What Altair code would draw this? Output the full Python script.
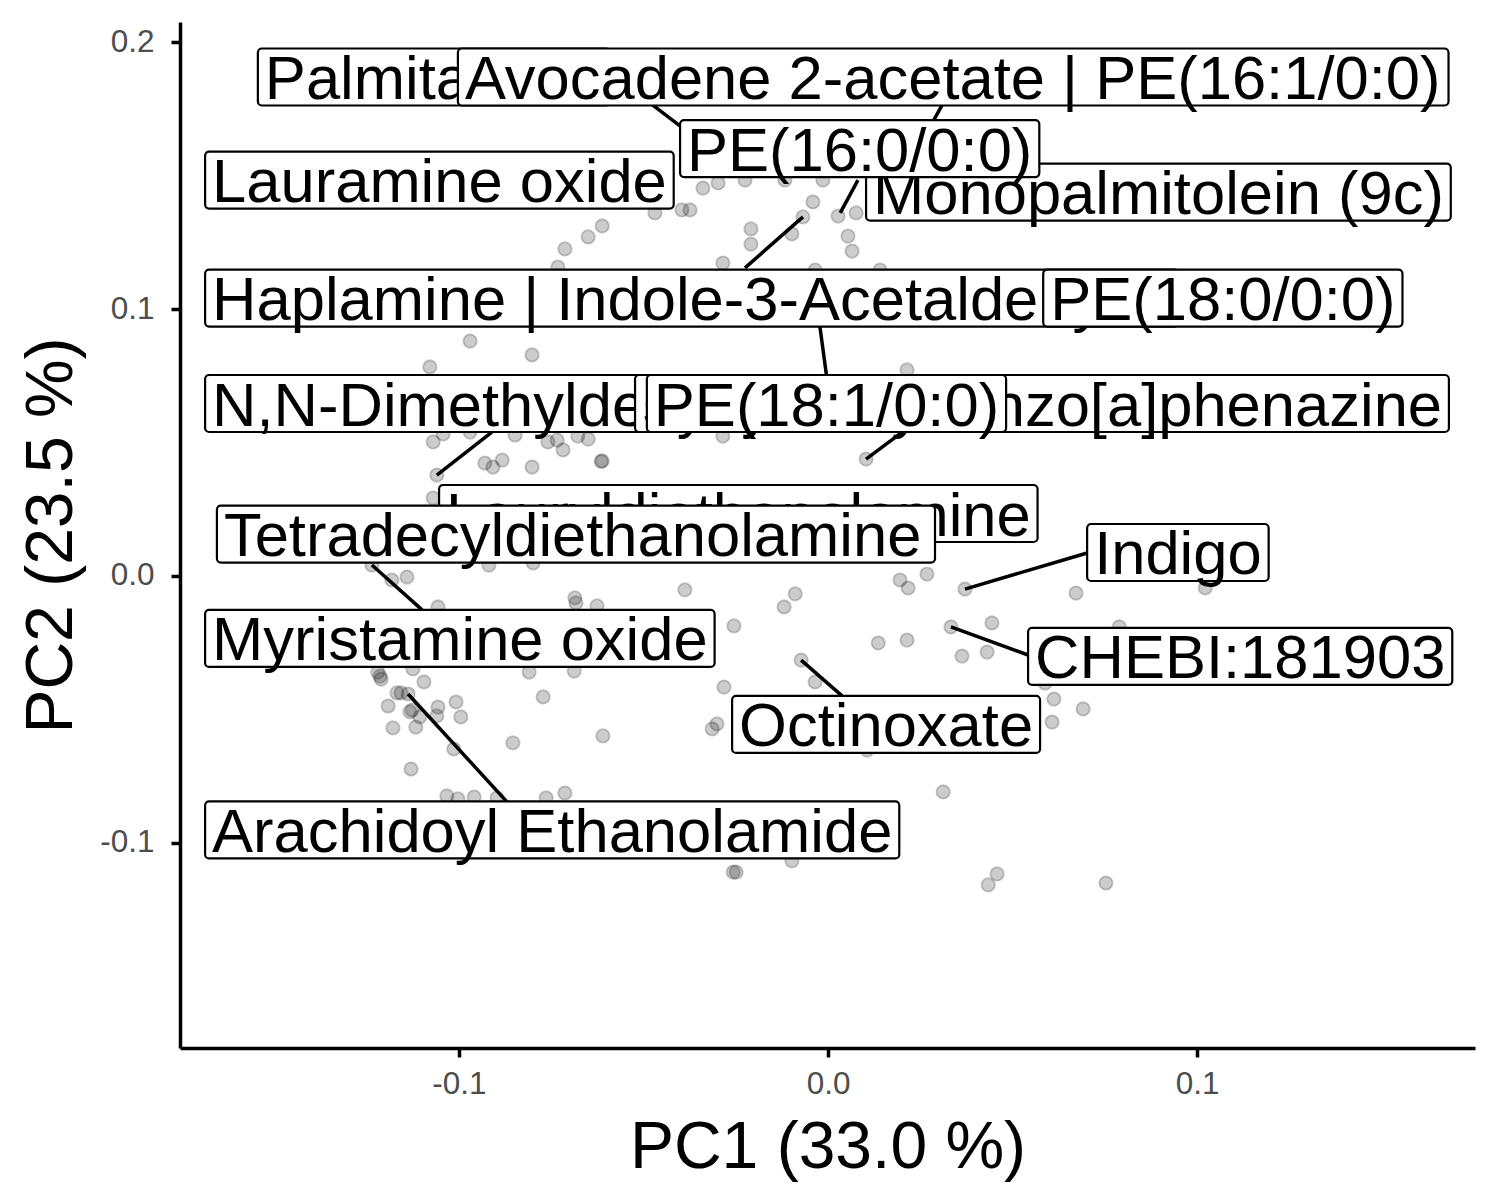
import altair as alt
import pandas as pd

# ---------------- data ----------------
pc1 = [-0.0469, -0.0396, -0.0374, -0.0339, -0.0298, -0.0225, -0.0117, -0.0014, -0.0612, -0.0650,
       -0.0713, -0.0732, -0.0041, -0.0068, -0.0098, -0.0209, -0.0209, -0.0285, -0.0035, 0.0027,
       0.0076, 0.0054, 0.0065, 0.0141, -0.0970, -0.0802, -0.1079, 0.0214, -0.1070, -0.1043,
       -0.0970, -0.0848, -0.0759, -0.0734, -0.0718, -0.0678, -0.0650, -0.0285, -0.0930, -0.0908,
       -0.0883, -0.0802, -0.0612, -0.0615, -0.1060, -0.1070, 0.0103, -0.1236, -0.1182, -0.1141,
       -0.0919, -0.0799, -0.1057, -0.0686, -0.0683, -0.0626, -0.0388, -0.0089, -0.0119, -0.0255,
       -0.0073, -0.0035, -0.0282, -0.1220, -0.1214, -0.1211, -0.1125, -0.1095, -0.0810, -0.0688,
       -0.1168, -0.1157, -0.1138, -0.1192, -0.1133, -0.1127, -0.1106, -0.1057, -0.1060, -0.1008,
       -0.0995, -0.1179, -0.1117, -0.0772, -0.1014, -0.0854, -0.0610, -0.1130, -0.0301, -0.0314,
       -0.1033, -0.1003, -0.0959, -0.0897, -0.0764, -0.0713, -0.0257, -0.0249, -0.0098, 0.0195,
       0.0217, 0.0268, 0.0371, 0.0672, 0.1022, 0.0333, 0.0444, 0.0136, 0.0214, 0.0363,
       0.0431, 0.0789, 0.0588, 0.0612, 0.0607, 0.0691, 0.0106, 0.0312, 0.0458, 0.0434,
       0.0753, -0.0333, 0.0249, 0.0003]
pc2 = [0.1360, 0.1371, 0.1371, 0.1453, 0.1472, 0.1483, 0.1483, 0.1483, 0.1311, 0.1270,
       0.1225, 0.1157, 0.1401, 0.1345, 0.1281, 0.1300, 0.1243, 0.1172, 0.1146, 0.1348,
       0.1360, 0.1273, 0.1217, 0.1146, 0.0880, 0.0828, 0.0783, 0.0772, 0.0502, 0.0532,
       0.0539, 0.0528, 0.0502, 0.0509, 0.0472, 0.0524, 0.0513, 0.0524, 0.0423, 0.0408,
       0.0434, 0.0408, 0.0431, 0.0429, 0.0378, 0.0292, 0.0438, 0.0041, -0.0015, -0.0004,
       0.0041, 0.0049, -0.0116, -0.0082, -0.0101, -0.0112, -0.0052, -0.0067, -0.0116, -0.0187,
       -0.0315, -0.0397, -0.0416, -0.0360, -0.0375, -0.0386, -0.0348, -0.0397, -0.0360, -0.0356,
       -0.0438, -0.0438, -0.0442, -0.0487, -0.0509, -0.0502, -0.0528, -0.0491, -0.0524, -0.0472,
       -0.0528, -0.0569, -0.0566, -0.0453, -0.0648, -0.0625, -0.0599, -0.0723, -0.0554, -0.0573,
       -0.0824, -0.0835, -0.0828, -0.0831, -0.0831, -0.0813, -0.1109, -0.1109, -0.1067, -0.0015,
       -0.0045, 0.0007, -0.0049, -0.0064, -0.0045, -0.0191, -0.0176, -0.0251, -0.0240, -0.0300,
       -0.0285, -0.0191, -0.0401, -0.0461, -0.0547, -0.0498, -0.0652, -0.0809, -0.1116, -0.1157,
       -0.1150, 0.1614, 0.1614, 0.0678]

# labels, in drawing order (later ones on top)
label_text = ["Palmitamide", "Avocadene 2-acetate | PE(16:1/0:0)", "Monopalmitolein (9c)",
              "PE(16:0/0:0)", "Lauramine oxide", "Haplamine | Indole-3-Acetaldehyde",
              "PE(18:0/0:0)", "N,N-Dimethyldecylamine", "5-Hydroxybenzo[a]phenazine",
              "PE(18:1/0:0)", "Lauryldiethanolamine", "Tetradecyldiethanolamine", "Indigo",
              "Myristamine oxide", "CHEBI:181903", "Octinoxate", "Arachidoyl Ethanolamide"]
label_left = [-0.1545, -0.1003, 0.0103, -0.0401, -0.1688, -0.1688, 0.0583, -0.1688, -0.0523,
              -0.0491, -0.1054, -0.1656, 0.0702, -0.1688, 0.0542, -0.0260, -0.1688]
label_mid = [0.1869, 0.1869, 0.1438, 0.1601, 0.1483, 0.1041, 0.1041, 0.0646, 0.0646,
             0.0646, 0.0234, 0.0157, 0.0088, -0.0234, -0.0301, -0.0556, -0.0951]

# connector segments: point -> label edge
seg_x = [-0.0333, 0.0249, 0.0033, -0.0068, 0.0003, 0.0103, -0.1060, -0.1236, -0.1138, -0.0073, 0.0371, 0.0333]
seg_y = [0.1614, 0.1614, 0.1360, 0.1345, 0.0678, 0.0438, 0.0378, 0.0041, -0.0442, -0.0315, -0.0049, -0.0191]
seg_xend = [-0.0482, 0.0312, 0.0081, -0.0225, -0.0022, 0.0201, -0.0911, -0.1100, -0.0870, 0.0038, 0.0702, 0.0542]
seg_yend = [0.1771, 0.1771, 0.1483, 0.1154, 0.0933, 0.0539, 0.0539, -0.0127, -0.0846, -0.0449, 0.0086, -0.0296]

x_ticks = [-0.1, 0.0, 0.1]
y_ticks = [-0.1, 0.0, 0.1, 0.2]

# ---------------- layout / style ----------------
XMIN, XMAX = -0.1756, 0.1753
YMIN, YMAX = -0.1768, 0.2075
W, H = 1295, 1026
FONT = "Liberation Sans, Arial, Helvetica, sans-serif"
FS = 61.5
PAD = 7
BOX_H = 57

ARIAL = {" ": 278, "(": 333, ")": 333, ",": 278, "-": 333, ".": 278, "/": 278, ":": 278,
         "[": 278, "]": 278, "|": 260,
         "A": 667, "B": 667, "C": 722, "D": 722, "E": 667, "F": 611, "G": 778, "H": 722, "I": 278,
         "J": 500, "K": 667, "L": 556, "M": 833, "N": 722, "O": 778, "P": 667, "Q": 778, "R": 722,
         "S": 667, "T": 611, "U": 722, "V": 667, "W": 944, "X": 667, "Y": 667, "Z": 611,
         "a": 556, "b": 556, "c": 500, "d": 556, "e": 556, "f": 278, "g": 556, "h": 556, "i": 222,
         "j": 222, "k": 500, "l": 222, "m": 833, "n": 556, "o": 556, "p": 556, "q": 556, "r": 333,
         "s": 500, "t": 278, "u": 556, "v": 500, "w": 722, "x": 500, "y": 500, "z": 500}


def text_px(s):
    return sum(ARIAL.get(c, 556) for c in s) * FS / 1000.0


px_x = W / (XMAX - XMIN)
px_y = H / (YMAX - YMIN)

xs = alt.Scale(domain=[XMIN, XMAX], nice=False, zero=False)
ys = alt.Scale(domain=[YMIN, YMAX], nice=False, zero=False)
minus_fix = "replace(format(datum.value, '.1f'), '\u2212', '-')"
x_axis = alt.Axis(values=x_ticks, labelExpr=minus_fix, title="PC1 (33.0 %)",
                  labelPadding=11, titlePadding=16)
y_axis = alt.Axis(values=y_ticks, labelExpr=minus_fix, title="PC2 (23.5 %)",
                  labelPadding=17, titlePadding=14)


def X(f):
    return alt.X(f, type="quantitative", scale=xs, axis=x_axis)


def Y(f):
    return alt.Y(f, type="quantitative", scale=ys, axis=y_axis)


pts = pd.DataFrame({"pc1": pc1, "pc2": pc2})
points = alt.Chart(pts).mark_circle(
    size=180, fill="black", fillOpacity=0.2, stroke="black", strokeOpacity=0.2, strokeWidth=1.8
).encode(x=X("pc1"), y=Y("pc2"))

segs = pd.DataFrame({"x": seg_x, "y": seg_y, "xe": seg_xend, "ye": seg_yend})
segments = alt.Chart(segs).mark_rule(color="black", strokeWidth=3.5).encode(
    x=X("x"), y=Y("y"), x2="xe", y2="ye")

layers = [points, segments]
for i, txt in enumerate(label_text):
    w = (text_px(txt) + 2 * PAD) / px_x
    hh = (BOX_H / 2) / px_y
    d = pd.DataFrame({"label": [txt], "x0": [label_left[i]], "x1": [label_left[i] + w],
                      "ym": [label_mid[i]], "y0": [label_mid[i] + hh], "y1": [label_mid[i] - hh]})
    box = alt.Chart(d).mark_rect(fill="white", stroke="black", strokeWidth=2.2, cornerRadius=4).encode(
        x=X("x0"), x2="x1", y=Y("y0"), y2="y1")
    tx = alt.Chart(d).mark_text(align="left", baseline="alphabetic", dx=PAD, dy=22,
                                fontSize=FS, font=FONT, color="black").encode(
        x=X("x0"), y=Y("ym"), text="label")
    layers += [box, tx]

chart = alt.layer(*layers).properties(
    width=W, height=H,
    autosize=alt.AutoSizeParams(type="none"),
    padding={"left": 180, "top": 22, "right": 25, "bottom": 152},
    background="white",
).configure_view(stroke=None).configure_axis(
    grid=False, domainColor="black", domainWidth=3.5, tickColor="black", tickWidth=3.5,
    tickSize=9, labelColor="#4D4D4D", labelFontSize=31.5, labelFont=FONT,
    titleFont=FONT, titleFontSize=66, titleColor="black", titleFontWeight="normal",
)

chart.save("out.html", embed_options={"renderer": "svg", "actions": False})
